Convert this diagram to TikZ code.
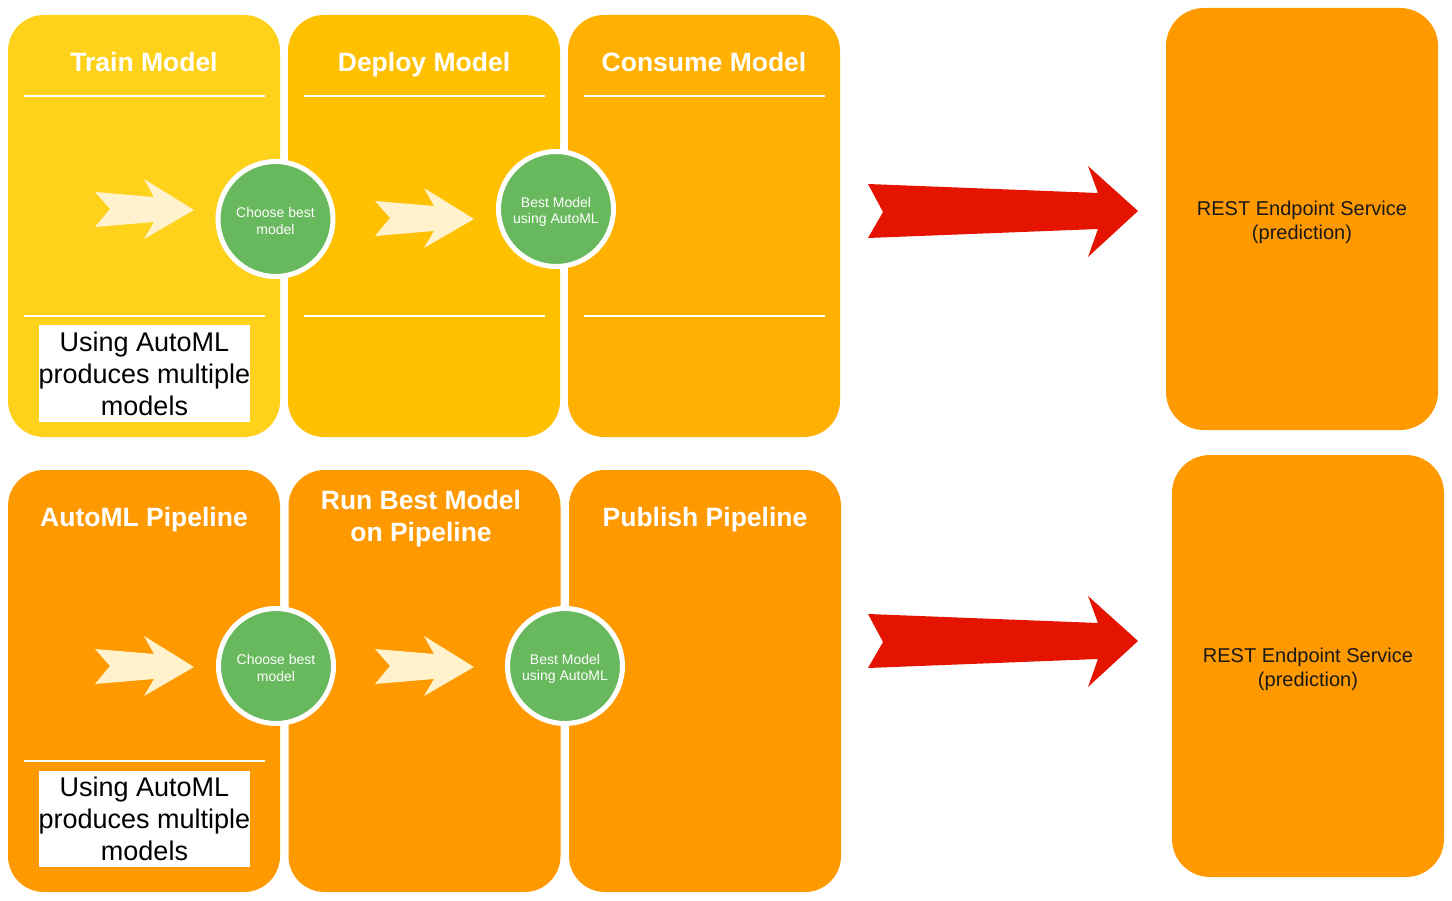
\documentclass[tikz,border=0pt]{standalone}
\usepackage{fontspec}
\setmainfont{Liberation Sans}
\definecolor{trainc}{HTML}{FED11B}
\definecolor{deployc}{HTML}{FFC000}
\definecolor{consumec}{HTML}{FFB000}
\definecolor{orangec}{HTML}{FF9900}
\definecolor{greenc}{HTML}{68B85D}
\definecolor{creamc}{HTML}{FFF2CC}
\definecolor{redc}{HTML}{E51400}
\begin{document}
\begin{tikzpicture}[x=1pt,y=-1pt,
  panel/.style={rectangle, rounded corners=36pt, minimum width=272pt, minimum height=422pt, inner sep=0pt, outer sep=0pt},
  endbox/.style={rectangle, rounded corners=38pt, fill=orangec, minimum width=272pt, minimum height=422pt, inner sep=0pt, outer sep=0pt},
  endtext/.style={align=center, font=\fontsize{20}{24}\selectfont, text=black!90, inner sep=0pt},
  ptitle/.style={text=white, font=\bfseries\fontsize{26.5}{32}\selectfont, align=center, inner sep=0pt},
  sepline/.style={draw=white, line width=1.6pt},
  stepcirc/.style={circle, fill=greenc, draw=white, line width=5pt, minimum size=115pt, inner sep=0pt},
  circtext/.style={text=white, align=center, inner sep=0pt, font=\fontsize{14}{16.5}\selectfont},
  notebox/.style={fill=white, minimum width=211pt, minimum height=96pt, inner sep=0pt, align=center,
     font=\fontsize{27}{32}\selectfont},
  cream/.pic={\fill[creamc] (0,0) -- (15,17) -- (0,35) -- (59,30) -- (49,47) -- (99,18) -- (49,-13) -- (59,5) -- cycle;},
  redarrow/.pic={\fill[redc] (0,0) -- (15,28) -- (0,54) -- (230,45) -- (220,73) -- (270,27) -- (220,-18) -- (230,9) -- cycle;}
]
\fill[white] (0,0) rectangle (1452,901);
\useasboundingbox (0,0) rectangle (1452,901);

% top row panels
\node[panel, fill=trainc] (train) at (144,226) {};
\node[panel, fill=deployc] (deploy) at (424,226) {};
\node[panel, fill=consumec] (consume) at (704,226) {};
% bottom row panels
\node[panel, fill=orangec] (automl) at (144,681) {};
\node[panel, fill=orangec] (runbest) at (424.5,681) {};
\node[panel, fill=orangec] (publish) at (705,681) {};

% titles
\node[ptitle, anchor=base] (t1) at (144,71.5) {Train Model};
\node[ptitle, anchor=base] (t2) at (424,71.5) {Deploy Model};
\node[ptitle, anchor=base] (t3) at (704,71.5) {Consume Model};
\node[ptitle, anchor=base] (t4) at (144,526) {AutoML Pipeline};
\node[ptitle] (t5) at (421,519) {Run Best Model\\on Pipeline};
\node[ptitle, anchor=base] (t6) at (705,526) {Publish Pipeline};

% separator lines
\draw[sepline] (24,96) -- (265,96);
\draw[sepline] (24,316) -- (265,316);
\draw[sepline] (304,96) -- (545,96);
\draw[sepline] (304,316) -- (545,316);
\draw[sepline] (584,96) -- (825,96);
\draw[sepline] (584,316) -- (825,316);
\draw[sepline] (24,761) -- (265,761);

% note boxes
\node[notebox] (n1) at (144.5,373.5) {Using AutoML\\produces multiple\\models};
\node[notebox] (n2) at (144.5,818.5) {Using AutoML\\produces multiple\\models};

% cream arrows
\pic at (95,192) {cream};
\pic at (375,201) {cream};
\pic at (95,649) {cream};
\pic at (375,649) {cream};

% circles
\node[stepcirc] (c1) at (275.5,219) {};
\node[circtext] (c1t) at (275.5,221) {Choose best\\model};
\node[stepcirc] (c2) at (556,209) {};
\node[circtext] (c2t) at (556,212) {Best Model\\using AutoML};
\node[stepcirc] (c3) at (276,666) {};
\node[circtext] (c3t) at (276,668) {Choose best\\model};
\node[stepcirc] (c4) at (565,666) {};
\node[circtext] (c4t) at (565,669) {Best Model\\using AutoML};

% red arrows
\pic at (868,184) {redarrow};
\pic at (868,614) {redarrow};

% endpoint boxes
\node[endbox] (rest1) at (1302,219) {};
\node[endtext] (rest1t) at (1302,222) {REST Endpoint Service\\(prediction)};
\node[endbox] (rest2) at (1308,666) {};
\node[endtext] (rest2t) at (1308,669) {REST Endpoint Service\\(prediction)};
\end{tikzpicture}
\end{document}
